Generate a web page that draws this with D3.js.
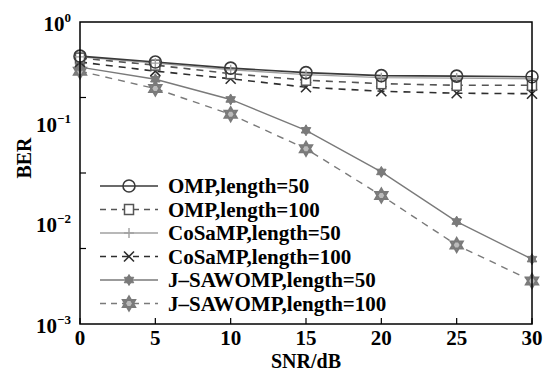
<!DOCTYPE html>
<html><head><meta charset="utf-8">
<script src="https://cdn.jsdelivr.net/npm/d3@7/dist/d3.min.js"></script>
<style>body{margin:0;background:#fff}svg{display:block}text{font-family:"Liberation Serif","Times New Roman",serif}</style>
</head><body><svg id="c" width="548" height="372"></svg>
<script>
const snr = [0, 5, 10, 15, 20, 25, 30];
const omp50 = [0.458, 0.40, 0.348, 0.314, 0.293, 0.290, 0.286];
const omp100 = [0.438, 0.373, 0.307, 0.264, 0.244, 0.235, 0.235];
const cosamp50 = [0.45, 0.39, 0.336, 0.30, 0.28, 0.277, 0.273];
const cosamp100 = [0.40, 0.325, 0.273, 0.225, 0.205, 0.196, 0.194];
const jsaw50 = [0.356, 0.27, 0.170, 0.084, 0.0324, 0.0104, 0.00441];
const jsaw100 = [0.325, 0.218, 0.121, 0.055, 0.0189, 0.00608, 0.00268];
const seriesNames = ["OMP,length=50","OMP,length=100","CoSaMP,length=50","CoSaMP,length=100","J\u2013SAWOMP,length=50","J\u2013SAWOMP,length=100"];
const xTicks = [0, 5, 10, 15, 20, 25, 30];
const yLabelExps = [0, -1, -2, -3];
const yTickVals = [Math.pow(10,-0.75), Math.pow(10,-1.5), Math.pow(10,-2.25)];

const styles = [
  {color:"#3a3a3a", dash:null, sym:"circle", w:1.6},
  {color:"#555", dash:"7,6", sym:"square", w:1.6},
  {color:"#a0a0a0", dash:null, sym:"plus", w:1.4},
  {color:"#2e2e2e", dash:"7,6", sym:"cross", w:1.6},
  {color:"#7a7a7a", dash:null, sym:"star", w:1.4},
  {color:"#7a7a7a", dash:"7,6", sym:"starO", w:1.4}
];
const data = [omp50, omp100, cosamp50, cosamp100, jsaw50, jsaw100];

const svg = d3.select("#c");
const L=80, R=532, T=22, B=324;
const x = d3.scaleLinear().domain([0,30]).range([L,R]);
const y = d3.scaleLog().domain([1e-3,1]).range([B,T]);

function hexagram(r){
  const pts=[];
  for(let k=0;k<2;k++){
    const a0 = k? Math.PI/2 : -Math.PI/2;
    const p=[];
    for(let i=0;i<3;i++){const a=a0+i*2*Math.PI/3;p.push([r*Math.cos(a),r*Math.sin(a)]);}
    pts.push("M"+p.map(q=>q.join(",")).join("L")+"Z");
  }
  return pts.join("");
}
function drawMarker(g, cx, cy, st){
  const c = st.color;
  if(st.sym==="circle") g.append("circle").attr("cx",cx).attr("cy",cy).attr("r",6).attr("fill","none").attr("stroke",c).attr("stroke-width",1.6);
  else if(st.sym==="square") g.append("rect").attr("x",cx-4.5).attr("y",cy-5).attr("width",9).attr("height",10).attr("fill","#fff").attr("stroke",c).attr("stroke-width",1.5);
  else if(st.sym==="plus") g.append("path").attr("d",`M${cx-5},${cy}H${cx+5}M${cx},${cy-5}V${cy+5}`).attr("stroke",c).attr("stroke-width",1.4);
  else if(st.sym==="cross") g.append("path").attr("d",`M${cx-5},${cy-5}L${cx+5},${cy+5}M${cx+5},${cy-5}L${cx-5},${cy+5}`).attr("stroke",c).attr("stroke-width",1.6);
  else if(st.sym==="star") g.append("path").attr("d",hexagram(5.5)).attr("transform",`translate(${cx},${cy})`).attr("fill",c).attr("stroke",c).attr("stroke-width",1);
  else if(st.sym==="starO") g.append("path").attr("d",hexagram(7)).attr("transform",`translate(${cx},${cy})`).attr("fill","#bbb").attr("stroke",c).attr("stroke-width",2);
}

const line = d3.line().x((d,i)=>x(snr[i])).y(d=>y(d));
const order = [5,4,3,1,2,0];
order.forEach(k=>{
  const st=styles[k];
  svg.append("path").datum(data[k]).attr("d",line).attr("fill","none").attr("stroke",st.color).attr("stroke-width",st.w).attr("stroke-dasharray",st.dash);
});
order.forEach(k=>{
  const g=svg.append("g");
  data[k].forEach((v,i)=>drawMarker(g,x(snr[i]),y(v),styles[k]));
});

svg.append("rect").attr("x",L).attr("y",T).attr("width",R-L).attr("height",B-T).attr("fill","none").attr("stroke","#000").attr("stroke-width",1.5);

const xa = svg.append("g");
xTicks.forEach(t=>{
  xa.append("line").attr("x1",x(t)).attr("x2",x(t)).attr("y1",B).attr("y2",B-6).attr("stroke","#000").attr("stroke-width",1.2);
  xa.append("text").attr("x",x(t)).attr("y",B+21).attr("text-anchor","middle").attr("font-size",21).attr("font-weight","bold").text(t);
});
svg.append("text").attr("x",(L+R)/2).attr("y",B+44).attr("text-anchor","middle").attr("font-size",20).attr("font-weight","bold").text("SNR/dB");

yTickVals.forEach(v=>{
  svg.append("line").attr("x1",L).attr("x2",L+6).attr("y1",y(v)).attr("y2",y(v)).attr("stroke","#000").attr("stroke-width",1.2);
});
yLabelExps.forEach(e=>{
  const t = svg.append("text").attr("x",L-9).attr("y",y(Math.pow(10,e))+9).attr("text-anchor","end").attr("font-size",21).attr("font-weight","bold");
  t.append("tspan").text("10");
  t.append("tspan").attr("dy",-9).attr("font-size",13).text(e===0?"0":"\u2212"+(-e));
});
svg.append("text").attr("transform",`translate(31,${(T+B)/2-15}) rotate(-90)`).attr("text-anchor","middle").attr("font-size",20).attr("font-weight","bold").text("BER");

const lg = svg.append("g");
seriesNames.forEach((n,k)=>{
  const yy = 186 + k*23.5;
  const st=styles[k];
  lg.append("line").attr("x1",100).attr("x2",158).attr("y1",yy).attr("y2",yy).attr("stroke",st.color).attr("stroke-width",st.w).attr("stroke-dasharray",st.dash? "6,5":null);
  drawMarker(lg,129,yy,st);
  lg.append("text").attr("x",168).attr("y",yy+7).attr("font-size",21).attr("font-weight","bold").text(n);
});
</script></body></html>
